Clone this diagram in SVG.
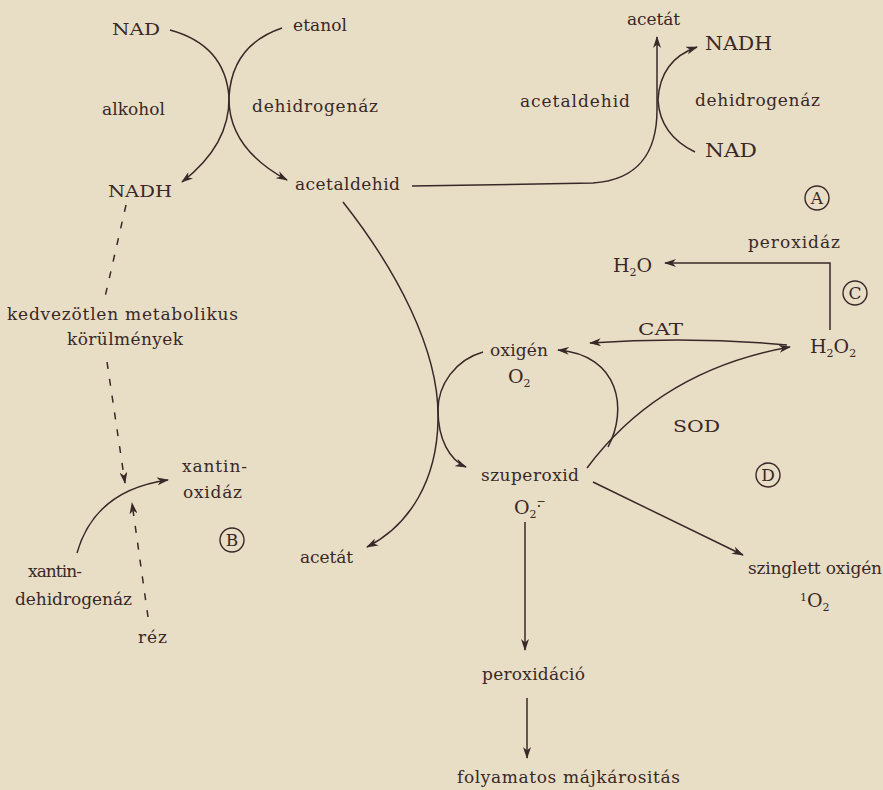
<svg xmlns="http://www.w3.org/2000/svg" width="883" height="790" viewBox="0 0 883 790">
<defs>
<style>
.t{font-family:"DejaVu Serif","Liberation Serif",serif;font-size:17px;fill:#3a2828}
.b{font-size:18px}
.s{font-size:11px}
.f{font-size:19px}
.c{fill:none;stroke:#3a2828;stroke-width:1.4}
.ln{fill:none;stroke:#3a2828;stroke-width:1.5}
.d{stroke-dasharray:7 10}
</style>
<marker id="ah" viewBox="0 0 12 8" refX="11" refY="4" markerWidth="12" markerHeight="8" markerUnits="userSpaceOnUse" orient="auto">
<path d="M0,0 L12,4 L0,8 L3.5,4 z" fill="#3a2828"/>
</marker>
</defs>
<rect width="883" height="790" fill="#e7dec5"/>

<g id="connectors">
<path class="ln" d="M170,30 Q225,45 229,97 Q230,145 182,182" marker-end="url(#ah)"/>
<path class="ln" d="M282,28 Q232,45 229,97 Q228,148 287,180" marker-end="url(#ah)"/>
<path class="ln" d="M412,186 L593,183 C640,180 657,150 657,110 L657,37" marker-end="url(#ah)"/>
<path class="ln" d="M695,152 Q660,135 658,100 Q660,60 697,47" marker-end="url(#ah)"/>
<path class="ln" d="M343,202 C395,268 440,350 438,420 C437,480 410,525 367,547" marker-end="url(#ah)"/>
<path class="ln" d="M483,352 C455,360 438,385 438,410 C438,440 450,460 466,467" marker-end="url(#ah)"/>
<path class="ln" d="M608,447 C628,410 620,355 558,350" marker-end="url(#ah)"/>
<path class="ln" d="M587,468 Q660,370 790,347" marker-end="url(#ah)"/>
<path class="ln" d="M787,345 Q690,336 590,343" marker-end="url(#ah)"/>
<path class="ln" d="M830,330 L830,263 L665,263" marker-end="url(#ah)"/>
<path class="ln" d="M525,522 L525,650" marker-end="url(#ah)"/>
<path class="ln" d="M527,698 L527,758" marker-end="url(#ah)"/>
<path class="ln" d="M593,482 L743,555" marker-end="url(#ah)"/>
<path class="ln d" d="M126,205 L105,297"/>
<path class="ln d" d="M107,362 L125,483" marker-end="url(#ah)"/>
<path class="ln d" d="M148,617 L132,503" marker-end="url(#ah)"/>
<path class="ln" d="M77,553 Q95,490 168,480" marker-end="url(#ah)"/>
</g>

<g id="nad1"><text class="t" x="112" y="35" textLength="48" lengthAdjust="spacingAndGlyphs">NAD</text></g>
<g id="etanol"><text class="t" x="293" y="31" textLength="54">etanol</text></g>
<g id="adh-label">
<text class="t" x="102" y="115" textLength="63">alkohol</text>
<text class="t" x="252" y="112" textLength="126">dehidrogenáz</text>
</g>
<g id="nadh1"><text class="t" x="108" y="197" textLength="64" lengthAdjust="spacingAndGlyphs">NADH</text></g>
<g id="acetaldehid"><text class="t" x="295" y="190" textLength="105">acetaldehid</text></g>
<g id="acetat1"><text class="t" x="627" y="25" textLength="53">acetát</text></g>
<g id="nadh2"><text class="t b" x="705" y="50" textLength="67" lengthAdjust="spacingAndGlyphs">NADH</text></g>
<g id="aldh-label">
<text class="t" x="520" y="107" textLength="110">acetaldehid</text>
<text class="t" x="695" y="106" textLength="125">dehidrogenáz</text>
</g>
<g id="nad2"><text class="t b" x="705" y="157" textLength="52" lengthAdjust="spacingAndGlyphs">NAD</text></g>
<g id="labelA"><circle class="c" cx="817" cy="198" r="12"/><text class="t" x="817" y="204" text-anchor="middle" font-size="15">A</text></g>

<g id="peroxidaz"><text class="t" x="748" y="248" textLength="92">peroxidáz</text></g>
<g id="h2o"><text class="t f" x="613" y="272">H<tspan class="s" dy="4">2</tspan><tspan dy="-4">O</tspan></text></g>
<g id="labelC"><circle class="c" cx="855" cy="293" r="12"/><text class="t" x="855" y="299" text-anchor="middle" font-size="15">C</text></g>
<g id="cat"><text class="t" x="638" y="335" textLength="45" lengthAdjust="spacingAndGlyphs">CAT</text></g>
<g id="h2o2"><text class="t f" x="810" y="353">H<tspan class="s" dy="4">2</tspan><tspan dy="-4">O</tspan><tspan class="s" dy="4">2</tspan></text></g>
<g id="oxigen">
<text class="t" x="490" y="356" textLength="58">oxigén</text>
<text class="t f" x="508" y="383">O<tspan class="s" dy="4">2</tspan></text>
</g>
<g id="sod"><text class="t" x="673" y="432" textLength="47" lengthAdjust="spacingAndGlyphs">SOD</text></g>
<g id="szuperoxid">
<text class="t" x="481" y="481" textLength="98">szuperoxid</text>
<text class="t f" x="514" y="514">O<tspan class="s" dy="4">2</tspan><tspan class="s" dy="-13">−</tspan></text>
<circle cx="539" cy="506" r="1.1" fill="#3a2828"/>
</g>
<g id="labelD"><circle class="c" cx="768" cy="475" r="12"/><text class="t" x="768" y="481" text-anchor="middle" font-size="15">D</text></g>
<g id="szinglett">
<text class="t" x="748" y="574" textLength="134">szinglett oxigén</text>
<text class="t f" x="800" y="607"><tspan class="s" dy="-6">1</tspan><tspan dy="6">O</tspan><tspan class="s" dy="4">2</tspan></text>
</g>
<g id="peroxidacio"><text class="t" x="482" y="680" textLength="103">peroxidáció</text></g>
<g id="majkarositas"><text class="t" x="457" y="783" textLength="223">folyamatos májkárositás</text></g>
<g id="acetat2"><text class="t" x="300" y="563" textLength="53">acetát</text></g>

<g id="kedvezotlen">
<text class="t" x="7" y="320" textLength="231">kedvezötlen metabolikus</text>
<text class="t" x="67" y="345" textLength="116">körülmények</text>
</g>
<g id="xantinoxidaz">
<text class="t" x="182" y="472" textLength="65">xantin-</text>
<text class="t" x="183" y="498" textLength="59">oxidáz</text>
</g>
<g id="labelB"><circle class="c" cx="232" cy="540" r="12"/><text class="t" x="232" y="546" text-anchor="middle" font-size="15">B</text></g>
<g id="xantindehidrogenaz">
<text class="t" x="28" y="577" textLength="54">xantin-</text>
<text class="t" x="15" y="605" textLength="117">dehidrogenáz</text>
</g>
<g id="rez"><text class="t" x="138" y="643" textLength="29">réz</text></g>
</svg>
